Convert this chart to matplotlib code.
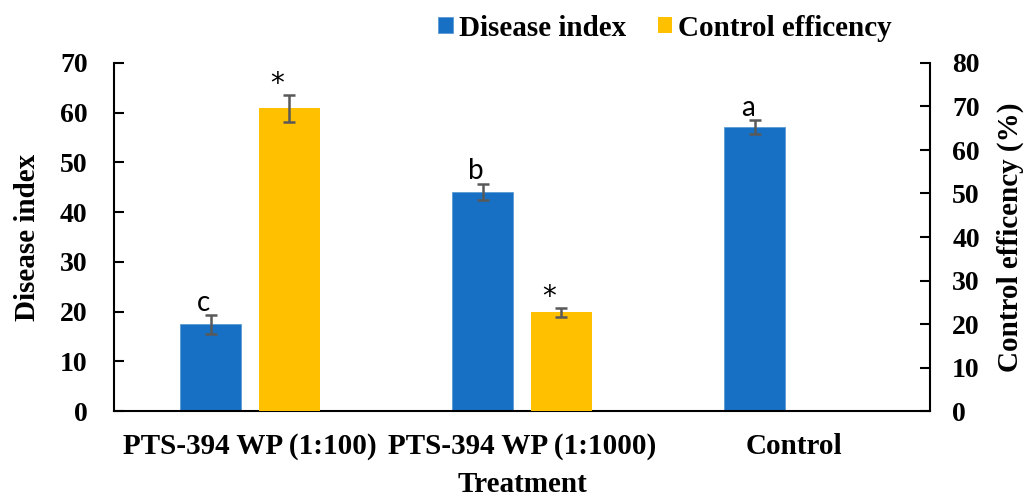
import matplotlib
matplotlib.use("Agg")
import matplotlib.pyplot as plt
import numpy as np

# Data
treatments = ["PTS-394 WP (1:100)", "PTS-394 WP (1:1000)", "Control"]
disease_index = [17.4, 44.1, 57.1]
disease_err = [1.85, 1.65, 1.45]
disease_letters = ["c", "b", "a"]
control_eff = [69.6, 22.7, 0.0]
control_err = [3.1, 1.0, 0.0]
control_marks = ["*", "*", ""]

blue = "#1870C5"
yellow = "#FFC000"
err_color = "#595959"
serif = "Liberation Serif"

fig = plt.figure(figsize=(10.29, 4.98), dpi=100)
ax = fig.add_axes([114 / 1029, 1 - 411 / 498, (930 - 114) / 1029, (411 - 63) / 498])
ax2 = ax.twinx()

x = np.arange(len(treatments))
off = 0.144
w = 0.224
err_kw = dict(ecolor=err_color, elinewidth=1.8, capsize=4.5, capthick=1.8)

ax.bar(x - off, disease_index, w, color=blue, edgecolor="#5b9bd5", linewidth=0.6,
       yerr=disease_err, error_kw=err_kw, label="Disease index", zorder=2)

has_ce = [i for i, v in enumerate(control_eff) if v > 0]
ax2.bar(x[has_ce] + off, [control_eff[i] for i in has_ce], w, color=yellow,
        yerr=[control_err[i] for i in has_ce], error_kw=err_kw, label="Control efficency", zorder=2)

# significance letters
for i, lab in enumerate(disease_letters):
    ax.annotate(lab, (x[i] - off, disease_index[i] + disease_err[i]),
                xytext=(-5, 3), textcoords="offset points", ha="center", va="baseline",
                fontsize=20, family="Lato", color="black")
for i, lab in enumerate(control_marks):
    if lab:
        ax2.annotate(lab, (x[i] + off, control_eff[i] + control_err[i]),
                     xytext=(-9, 8), textcoords="offset points", ha="center", va="center",
                     fontsize=20, family="DejaVu Sans", color="black")

ax.set_xlim(-0.5, 2.5)
ax.set_ylim(0, 70)
ax2.set_ylim(0, 80)
ax.set_yticks(np.arange(0, 71, 10))
ax2.set_yticks(np.arange(0, 81, 10))
ax.set_xticks(x)
ax.set_xticklabels(treatments)

for a in (ax, ax2):
    a.spines["top"].set_visible(False)
    for s in a.spines.values():
        s.set_linewidth(1.5)
ax.spines["right"].set_visible(False)
ax2.spines["left"].set_visible(False)
ax2.spines["bottom"].set_visible(False)

ax.tick_params(axis="y", direction="in", length=7, width=1.5, pad=19)
ax2.tick_params(axis="y", direction="in", length=7, width=1.5, pad=16)
ax.tick_params(axis="x", length=0, pad=16)
for lbl in ax.get_yticklabels() + ax2.get_yticklabels():
    lbl.set_fontfamily(serif)
    lbl.set_fontweight("bold")
    lbl.set_fontsize(20)
for lbl in ax.get_xticklabels():
    lbl.set_fontfamily(serif)
    lbl.set_fontweight("bold")
    lbl.set_fontsize(21)

ax.set_xlabel("Treatment", family=serif, fontweight="bold", fontsize=21, labelpad=8)
ax.set_ylabel("Disease index", family=serif, fontweight="bold", fontsize=21, labelpad=14)
ax2.set_ylabel("Control efficency (%)", family=serif, fontweight="bold", fontsize=21, labelpad=12)

h1, l1 = ax.get_legend_handles_labels()
h2, l2 = ax2.get_legend_handles_labels()
fig.legend(h1 + h2, l1 + l2, loc="center", bbox_to_anchor=(665 / 1029, 1 - 28 / 498),
           ncol=2, frameon=False, handlelength=0.5, handleheight=0.5, handletextpad=0.2,
           columnspacing=1.1, prop=dict(family=serif, weight="bold", size=21))

fig.savefig("out.png", dpi=100)
